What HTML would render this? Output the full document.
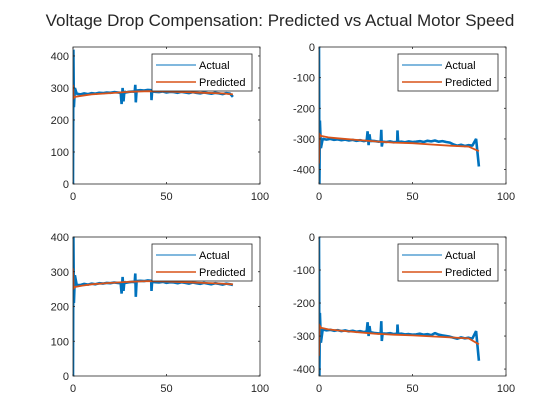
<!DOCTYPE html>
<html><head><meta charset="utf-8"><style>
body{margin:0;background:#fff;}
svg{display:block;font-family:"Liberation Sans",sans-serif;}
</style></head><body>
<svg id="chart" width="560" height="420" xmlns="http://www.w3.org/2000/svg">
<rect x="0" y="0" width="560" height="420" fill="#fff"/>
<text x="280" y="26" text-anchor="middle" font-size="17" fill="#262626">Voltage Drop Compensation: Predicted vs Actual Motor Speed</text>
</svg>
<script>
const tActual=[0,0.2,0.5,1,2,4,6,8,10,12,14,16,18,20,22,24,25.5,26,26.5,27,27.5,28,30,32,33,33.3,33.6,34,36,38,40,41.8,42,42.3,44,46,48,50,52,54,56,58,60,62,64,66,68,70,72,74,76,78,80,82,84,85.5];
const tPred=[0,0.3,1,5,10,20,30,40,50,60,70,80,85.5];
const actualTL=[0,420,240,300,282,280,283,281,284,282,285,284,286,285,287,286,285,250,300,258,290,286,288,289,288,310,255,292,293,292,294,293,262,289,288,287,289,286,288,287,285,288,286,284,287,285,283,286,284,282,285,283,281,284,282,272];
const predTL=[310,268,272,276,280,284,288,290,289,287,285,283,280];
const actualTR=[0,-450,-240,-330,-300,-302,-300,-303,-301,-304,-302,-305,-303,-306,-304,-307,-305,-275,-320,-285,-308,-306,-307,-309,-308,-270,-325,-309,-310,-308,-311,-309,-272,-310,-309,-311,-308,-310,-309,-307,-310,-306,-308,-305,-309,-307,-310,-312,-318,-322,-319,-323,-320,-322,-300,-390];
const predTR=[-380,-285,-290,-295,-298,-303,-308,-312,-314,-318,-322,-325,-340];
const actualBL=[0,400,210,290,262,262,265,263,266,264,267,266,268,267,269,268,267,237,285,245,272,268,270,271,270,295,228,273,274,273,275,274,245,271,270,269,271,268,270,269,267,270,268,266,269,267,265,268,266,264,267,265,263,266,264,262];
const predBL=[310,252,256,260,264,268,271,273,272,270,268,266,264];
const actualBR=[0,-420,-230,-320,-280,-283,-281,-284,-282,-285,-283,-286,-284,-287,-285,-288,-286,-258,-300,-270,-290,-289,-291,-292,-291,-255,-315,-292,-293,-291,-294,-293,-265,-294,-293,-295,-294,-296,-295,-293,-296,-294,-297,-291,-296,-298,-300,-302,-305,-308,-304,-307,-305,-308,-285,-375];
const predBR=[-360,-268,-275,-280,-283,-288,-293,-296,-298,-301,-304,-307,-325];
const xTicks=[0,50,100];
const yTicksPos=[0,100,200,300,400];
const yTicksNeg=[0,-100,-200,-300,-400];

const NS="http://www.w3.org/2000/svg";
const svg=document.getElementById('chart');
function mk(tag,attrs,parent){const e=document.createElementNS(NS,tag);for(const k in attrs)e.setAttribute(k,attrs[k]);(parent||svg).appendChild(e);return e;}

const panels=[
 {id:'top-left',x0:73,x1:260,y0:47,y1:184,ymin:0,ymax:428,yt:yTicksPos,a:actualTL,p:predTL},
 {id:'top-right',x0:319,x1:506,y0:47,y1:184,ymin:-447,ymax:0,yt:yTicksNeg,a:actualTR,p:predTR},
 {id:'bottom-left',x0:73,x1:260,y0:237,y1:376,ymin:0,ymax:400,yt:yTicksPos,a:actualBL,p:predBL},
 {id:'bottom-right',x0:319,x1:506,y0:237,y1:376,ymin:-421,ymax:0,yt:yTicksNeg,a:actualBR,p:predBR}
];
panels.forEach(P=>{
 const g=mk('g',{});
 
 
 const xs=v=>P.x0+(v/100)*(P.x1-P.x0);
 const ys=v=>P.y1-(v-P.ymin)/(P.ymax-P.ymin)*(P.y1-P.y0);
 mk('rect',{x:P.x0,y:P.y0,width:P.x1-P.x0,height:P.y1-P.y0,fill:'#fff'},g);
 const clip=mk('clipPath',{id:'c-'+P.id},g);
 mk('rect',{x:P.x0,y:P.y0,width:P.x1-P.x0,height:P.y1-P.y0},clip);
 const la=mk('polyline',{points:tActual.map((t,i)=>xs(t).toFixed(1)+','+ys(P.a[i]).toFixed(1)).join(' '),fill:'none',stroke:'#0072BD','stroke-width':2.6,'stroke-linejoin':'bevel','clip-path':'url(#c-'+P.id+')'},g);
 
 
 const lp=mk('polyline',{points:tPred.map((t,i)=>xs(t).toFixed(1)+','+ys(P.p[i]).toFixed(1)).join(' '),fill:'none',stroke:'#D95319','stroke-width':1.8,'clip-path':'url(#c-'+P.id+')'},g);
 
 
 mk('rect',{x:P.x0,y:P.y0,width:P.x1-P.x0,height:P.y1-P.y0,fill:'none',stroke:'#262626','stroke-width':0.8},g);
 xTicks.forEach(v=>{
  const x=xs(v);
  mk('line',{x1:x,x2:x,y1:P.y1,y2:P.y1-2,stroke:'#262626','stroke-width':0.8},g);
  mk('line',{x1:x,x2:x,y1:P.y0,y2:P.y0+2,stroke:'#262626','stroke-width':0.8},g);
  const tx=mk('text',{x:x,y:P.y1+16,'text-anchor':'middle','font-size':11,fill:'#262626'},g);
  tx.textContent=v;
  
  
 });
 P.yt.forEach(v=>{
  const y=ys(v);
  mk('line',{x1:P.x0,x2:P.x0+2,y1:y,y2:y,stroke:'#262626','stroke-width':0.8},g);
  mk('line',{x1:P.x1,x2:P.x1-2,y1:y,y2:y,stroke:'#262626','stroke-width':0.8},g);
  const ty=mk('text',{x:P.x0-4,y:y+4,'text-anchor':'end','font-size':11,fill:'#262626'},g);
  ty.textContent=v;
  
  
 });
 const lx=P.x0+79, ly=P.y0+7;
 const lg=mk('g',{},g);
 
 
 mk('rect',{x:lx,y:ly,width:100,height:37,fill:'#fff',stroke:'#262626','stroke-width':0.8},lg);
 mk('line',{x1:lx+4,x2:lx+44,y1:ly+11,y2:ly+11,stroke:'#0072BD','stroke-width':1},lg);
 mk('line',{x1:lx+4,x2:lx+44,y1:ly+28,y2:ly+28,stroke:'#D95319','stroke-width':1.5},lg);
 const t1=mk('text',{x:lx+47,y:ly+15,'font-size':11,fill:'#000'},lg);t1.textContent='Actual';
 
 
 const t2=mk('text',{x:lx+47,y:ly+32,'font-size':11,fill:'#000'},lg);t2.textContent='Predicted';
 
 
});
</script>
</body></html>
